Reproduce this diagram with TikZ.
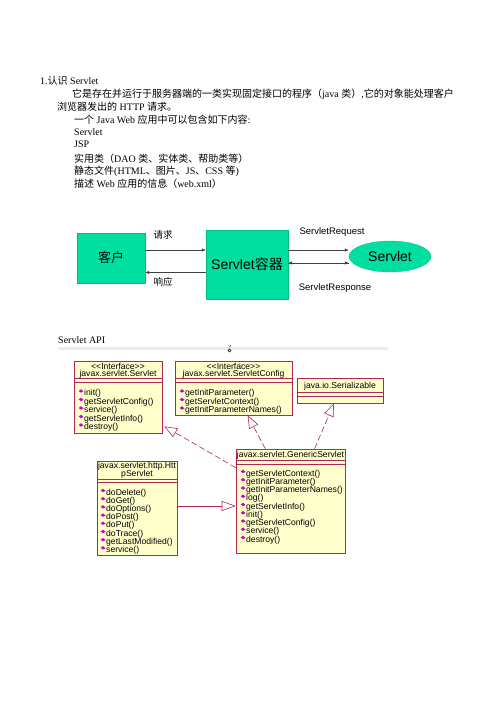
\documentclass[tikz,border=0pt]{standalone}
\usepackage{fontspec}
\setmainfont{Liberation Serif}
\newfontfamily\cjk{Noto Sans CJK SC}
\newfontfamily\arial{Liberation Sans}
\usepackage{tikz}
\usetikzlibrary{
    positioning,
    arrows.meta,
    calc,
    shapes.geometric
}

\definecolor{seagreen}{RGB}{0,222,160}
\definecolor{umledge}{RGB}{176,40,90}
\definecolor{umlfill}{RGB}{255,255,204}
\definecolor{methcol}{RGB}{204,0,204}

\tikzset{
    bodytext/.style={anchor=base west, inner sep=0pt, font=\fontsize{10}{12}\selectfont},
    greenbox/.style={draw=seagreen!85!black, line width=0.3pt, fill=seagreen, inner sep=0pt},
    flow/.style={draw=black!75, line width=0.5pt, -{Latex[length=4pt,width=3.4pt]}},
    flowlabel/.style={inner sep=0pt, font=\arial\fontsize{9.5}{10}\selectfont},
    umlbox/.style={draw=umledge, line width=0.6pt, fill=umlfill, inner sep=0pt},
    umlline/.style={draw=umledge, line width=0.6pt},
    umltext/.style={inner sep=0pt, font=\arial\fontsize{8.6}{9}\selectfont},
    methtext/.style={umltext, anchor=base west},
    realize/.style={umlline, dash pattern=on 6pt off 3pt, -{Triangle[length=13pt,width=10pt,fill=white]}},
    inherit/.style={umlline, -{Triangle[length=14pt,width=10pt,fill=white]}}
}

\newcommand\methicon[2]{\fill[methcol] (#1-2.3,#2) -- (#1,#2-1.8) -- (#1+2.5,#2+0.3) -- (#1,#2+1.7) -- cycle;}

\begin{document}
\begin{tikzpicture}[x=1pt, y=-1pt]
            \fill[white] (0,0) rectangle (496,702);
            \useasboundingbox (0,0) rectangle (496,702);

            % text block
            \node[bodytext] (t1) at (40,84) {1.{\cjk 认识} Servlet};
            \node[bodytext] (t2) at (72,97) {{\cjk 它是存在并运行于服务器端的一类实现固定接口的程序（}java {\cjk 类）},{\cjk 它的对象能处理客户}};
            \node[bodytext] (t3) at (57,110) {{\cjk 浏览器发出的} HTTP {\cjk 请求。}};
            \node[bodytext] (t4) at (74,123) {{\cjk 一个} Java Web {\cjk 应用中可以包含如下内容}:};
            \node[bodytext] (t5) at (74,135) {Servlet};
            \node[bodytext] (t6) at (74,147) {JSP};
            \node[bodytext] (t7) at (74,162) {{\cjk 实用类（}DAO {\cjk 类、实体类、帮助类等）}};
            \node[bodytext] (t8) at (74,174) {{\cjk 静态文件}(HTML{\cjk 、图片、}JS{\cjk 、}CSS {\cjk 等})};
            \node[bodytext] (t9) at (74,187) {{\cjk 描述} Web {\cjk 应用的信息（}web.xml{\cjk ）}};

            % request / response
            \node[greenbox, minimum width=68pt, minimum height=50pt] (client) at (111,258) {\cjk\fontsize{13}{13}\selectfont 客户};
            \node[greenbox, minimum width=82pt, minimum height=69pt] (container) at (247,264.5) {\arial\fontsize{14}{14}\selectfont Servlet{\cjk 容器}};
            \node[greenbox, ellipse, minimum width=82pt, minimum height=31pt] (servlet) at (390,256.5) {\arial\fontsize{14}{14}\selectfont Servlet};

            \draw[flow] ([yshift=8pt]client.east) coordinate (q1) -- (q1 -| container.west);
            \draw[flow] ([yshift=-8pt]container.west) coordinate (p1) -- (p1 -| client.east);
            \draw[flow] ([yshift=14.5pt]container.east) coordinate (q2) -- (q2 -| servlet.west);
            \draw[flow] ([yshift=1.5pt]container.east) coordinate (p2) -- (p2 -| servlet.west) coordinate (p3);
            \draw[flow] (p3) -- (p2);

            \node[flowlabel] (lq1) at (163,235) {\cjk 请求};
            \node[flowlabel] (lp1) at (163,282) {\cjk 响应};
            \node[flowlabel] (lq2) at (332,232) {ServletRequest};
            \node[flowlabel] (lp2) at (335,288) {ServletResponse};

            % Servlet API
            \node[bodytext] (api) at (58,343) {Servlet API};
            \draw[gray!15, line width=3pt] (58,348) -- (388,348);
            \draw[black, line width=0.4pt] (229.5,350.5) circle (1.5) (229.6,347.2) -- (230.8,345.4);

            \node[umlbox, minimum width=88pt, minimum height=72pt] (iservlet) at (118,397) {};
            \node[umlbox, minimum width=117pt, minimum height=54pt] (iconfig) at (233.5,388) {};
            \node[umlbox, minimum width=86pt, minimum height=25pt] (serial) at (340,390.5) {};
            \node[umlbox, minimum width=80pt, minimum height=94pt] (httpserv) at (137,508) {};
            \node[umlbox, minimum width=109pt, minimum height=104pt] (generic) at (290.5,501) {};

            \foreach \b/\d in {iservlet/18, iservlet/22, iconfig/18, iconfig/22, serial/15, serial/19,
                               httpserv/19, httpserv/22, generic/12, generic/16}
                \draw[umlline] ($(\b.north west)+(0,\d)$) -- ($(\b.north east)+(0,\d)$);

            \node[umltext] (h1a) at (118,366) {<<Interface>>};
            \node[umltext] (h1b) at (118,374) {javax.servlet.Servlet};
            \node[umltext] (h2a) at (233.5,366) {<<Interface>>};
            \node[umltext] (h2b) at (233.5,374) {javax.servlet.ServletConfig};
            \node[umltext] (h3) at (340,386) {java.io.Serializable};
            \node[umltext] (h4a) at (137,466) {javax.servlet.http.Htt};
            \node[umltext] (h4b) at (137,474) {pServlet};
            \node[umltext] (h5) at (290.5,455) {javax.servlet.GenericServlet};

            \foreach \m [count=\i] in {init(), getServletConfig(), service(), getServletInfo(), destroy()} {
                \pgfmathsetmacro\yb{395.5+(\i-1)*8.5}
                \node[methtext] (ms\i) at (84,\yb) {\m};
                \methicon{81}{\yb-4.5}
            }
            \foreach \m [count=\i] in {getInitParameter(), getServletContext(), getInitParameterNames()} {
                \pgfmathsetmacro\yb{395.5+(\i-1)*8.5}
                \node[methtext] (mc\i) at (185,\yb) {\m};
                \methicon{182}{\yb-4.5}
            }
            \foreach \m [count=\i] in {doDelete(), doGet(), doOptions(), doPost(), doPut(), doTrace(),
                                       getLastModified(), service()} {
                \pgfmathsetmacro\yb{495+(\i-1)*8.2}
                \node[methtext] (mh\i) at (106,\yb) {\m};
                \methicon{103}{\yb-4.5}
            }
            \foreach \m [count=\i] in {getServletContext(), getInitParameter(), getInitParameterNames(), log(),
                                       getServletInfo(), init(), getServletConfig(), service(), destroy()} {
                \pgfmathsetmacro\yb{476+(\i-1)*8.25}
                \node[methtext] (mg\i) at (246,\yb) {\m};
                \methicon{243}{\yb-4.5}
            }

            % realizations and inheritance
            \draw[realize] ($(generic.north west)+(0,19)$) -- ($(iservlet.south east)+(2,-7)$);
            \draw[realize] ($(generic.north west)!0.27!(generic.north east)$) -- ($(iconfig.south west)!0.62!(iconfig.south east)$);
            \draw[realize] ($(generic.north west)!0.72!(generic.north east)$) -- ($(serial.south west)!0.43!(serial.south east)$);
            \draw[inherit] ([yshift=2pt]httpserv.east) coordinate (e1) -- (e1 -| generic.west);
        \end{tikzpicture}
\end{document}
